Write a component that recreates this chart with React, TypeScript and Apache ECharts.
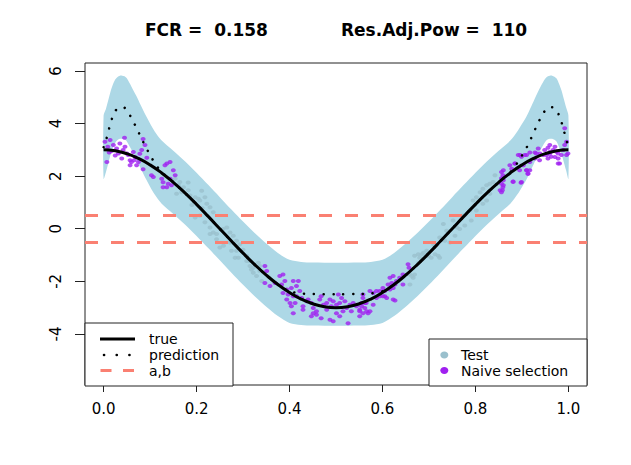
import React, { useEffect, useRef } from "react";
import * as echarts from "echarts";

const FONT = "DejaVu Sans";

const titleLeft = "FCR =  0.158";
const titleRight = "Res.Adj.Pow =  110";
const xTicks = [0, 0.2, 0.4, 0.6, 0.8, 1.0];
const yTicks = [-4, -2, 0, 2, 4, 6];
const abLines = [0.5, -0.5];
const legendLeftLabels = ["true", "prediction", "a,b"];
const legendRightLabels = ["Test", "Naive selection"];

const trueX = [0, 0.025, 0.05, 0.075, 0.1, 0.125, 0.15, 0.175, 0.2, 0.225, 0.25, 0.275, 0.3, 0.325, 0.35, 0.375, 0.4, 0.425, 0.45, 0.475, 0.5,
  0.525, 0.55, 0.575, 0.6, 0.625, 0.65, 0.675, 0.7, 0.725, 0.75, 0.775, 0.8, 0.825, 0.85, 0.875, 0.9, 0.925, 0.95, 0.975, 1.0];
const trueY = [3, 2.963, 2.853, 2.673, 2.427, 2.121, 1.763, 1.362, 0.927, 0.469, 0, -0.469, -0.927, -1.362, -1.763, -2.121, -2.427, -2.673, -2.853, -2.963, -3,
  -2.963, -2.853, -2.673, -2.427, -2.121, -1.763, -1.362, -0.927, -0.469, 0, 0.469, 0.927, 1.362, 1.763, 2.121, 2.427, 2.673, 2.853, 2.963, 3];

const predX = [0, 0.005, 0.01, 0.015, 0.02, 0.025, 0.03, 0.035, 0.04, 0.045, 0.05, 0.06, 0.07, 0.08, 0.09, 0.1, 0.11, 0.125,
  0.15, 0.175, 0.2, 0.225, 0.25, 0.275, 0.3, 0.325, 0.35, 0.375, 0.4, 0.425, 0.45, 0.5, 0.55, 0.575, 0.6, 0.625, 0.65, 0.675,
  0.7, 0.725, 0.75, 0.775, 0.8, 0.825, 0.85, 0.875, 0.89, 0.9, 0.91, 0.92, 0.93, 0.94, 0.95, 0.955, 0.96, 0.965, 0.97, 0.975,
  0.98, 0.985, 0.99, 0.995, 1.0];
const predY = [3.1, 3.35, 3.68, 4.02, 4.28, 4.47, 4.57, 4.62, 4.62, 4.6, 4.52, 4.2, 3.86, 3.49, 3.13, 2.8, 2.5, 2.15,
  1.763, 1.362, 0.927, 0.469, 0, -0.469, -0.927, -1.362, -1.763, -2.121, -2.38, -2.46, -2.48, -2.49, -2.48, -2.46, -2.38, -2.121, -1.763, -1.362,
  -0.927, -0.469, 0, 0.469, 0.927, 1.362, 1.763, 2.15, 2.5, 2.78, 3.08, 3.45, 3.84, 4.2, 4.5, 4.59, 4.62, 4.62, 4.58, 4.5,
  4.3, 4.06, 3.74, 3.42, 3.1];
const bandHalfWidth = 1.2;

const testPoints = [
  [0.164, 1.78], [0.172, 1.58], [0.182, 1.46], [0.186, 1.26], [0.204, 1.14], [0.207, 1.07], [0.218, 1.2], [0.222, 0.95],
  [0.229, 0.82], [0.236, 0.63], [0.218, 0.25], [0.229, 0.05], [0.236, -0.14], [0.257, -0.01], [0.265, 0.05], [0.272, -0.14],
  [0.279, -0.27], [0.286, -0.46], [0.293, -0.59], [0.275, -0.84], [0.283, -1.1], [0.29, -1.1], [0.25, -0.71], [0.308, -1.23],
  [0.315, -1.42], [0.318, -1.55], [0.333, -1.29], [0.336, -1.42], [0.322, -1.67], [0.197, 0.43], [0.207, 0.5], [0.243, -0.2],
  [0.154, 1.9], [0.161, 1.65], [0.168, 1.39], [0.182, 1.76], [0.197, 1.2], [0.211, 1.44], [0.157, 1.33], [0.229, -0.2],
  [0.243, -0.4], [0.258, -0.65], [0.272, -0.52], [0.286, -0.84], [0.308, -1.03], [0.315, -1.23], [0.322, -1.48], [0.336, -1.61],
  [0.344, -1.67], [0.329, -1.8], [0.34, -1.99], [0.19, 0.9], [0.212, 0.78], [0.3, -0.8],
  [0.669, -1.03], [0.677, -0.97], [0.688, -0.91], [0.695, -1.03], [0.705, -1.1], [0.713, -0.97], [0.72, -1.03], [0.68, -1.1],
  [0.695, -0.84], [0.659, -1.74], [0.666, -1.86], [0.659, -2.12], [0.669, -1.74], [0.731, 0.18], [0.738, -0.08], [0.723, -0.33],
  [0.745, -0.52], [0.756, -0.27], [0.766, -0.01], [0.777, 0.12], [0.791, 0.31], [0.752, 0.31], [0.774, 0.5], [0.788, 0.69],
  [0.795, 1.07], [0.802, 1.2], [0.81, 1.39], [0.816, 1.52], [0.824, 1.65], [0.831, 1.71], [0.838, 1.78], [0.831, 1.33],
  [0.824, 1.07], [0.842, 2.03], [0.802, 0.69], [0.816, 0.95], [0.723, -1.1], [0.734, -0.46], [0.663, -1.8], [0.685, -0.97],
  [0.699, -1.03], [0.678, -1.29], [0.71, -0.6], [0.76, 0.05],
];

const naivePoints = [
  [0.003, 3.31], [0.009, 3.12], [0.014, 3.37], [0.007, 2.54], [0.021, 3.18], [0.028, 3.05], [0.032, 2.86], [0.035, 3.24],
  [0.039, 2.67], [0.042, 2.99], [0.045, 3.46], [0.046, 3.12], [0.05, 2.86], [0.053, 2.8], [0.057, 2.6], [0.06, 2.54],
  [0.057, 2.41], [0.064, 2.92], [0.068, 2.73], [0.071, 2.41], [0.075, 2.54], [0.082, 2.99], [0.085, 3.41], [0.089, 3.18],
  [0.085, 2.26], [0.103, 2.03], [0.107, 1.97], [0.125, 1.9], [0.128, 1.77], [0.132, 2.41], [0.136, 2.48], [0.143, 2.54],
  [0.15, 2.22], [0.139, 1.71], [0.146, 1.65], [0.136, 1.58], [0.128, 1.58], [0.143, 1.9], [0.154, 2.03], [0.017, 2.95],
  [0.025, 2.78], [0.012, 2.9], [0.066, 2.6], [0.078, 2.85], [0.093, 2.7],
  [0.347, -1.42], [0.351, -1.61], [0.347, -2.06], [0.358, -2.18], [0.369, -2.06], [0.379, -1.8], [0.386, -1.74], [0.39, -1.99],
  [0.383, -2.12], [0.394, -2.31], [0.386, -2.44], [0.397, -2.5], [0.404, -2.25], [0.408, -1.99], [0.419, -1.99], [0.415, -2.18],
  [0.422, -2.37], [0.426, -2.63], [0.401, -2.82], [0.404, -2.95], [0.412, -2.82], [0.415, -2.57], [0.429, -2.95], [0.437, -2.76],
  [0.44, -2.69], [0.447, -2.82], [0.451, -3.01], [0.458, -3.14], [0.465, -2.69], [0.468, -2.57], [0.473, -2.89], [0.48, -2.82],
  [0.487, -2.69], [0.49, -2.95], [0.494, -2.76], [0.501, -2.89], [0.508, -2.82], [0.512, -2.63], [0.519, -2.76], [0.523, -3.01],
  [0.53, -2.89], [0.537, -2.82], [0.544, -2.95], [0.551, -3.14], [0.562, -3.01], [0.565, -2.82], [0.569, -3.21], [0.533, -3.14],
  [0.515, -3.14], [0.501, -3.21], [0.487, -3.46], [0.468, -3.4], [0.458, -3.27], [0.451, -3.21], [0.447, -3.33], [0.408, -3.21],
  [0.429, -3.08], [0.494, -3.52], [0.526, -3.59], [0.508, -3.33], [0.551, -3.33], [0.558, -2.63], [0.408, -2.57], [0.394, -2.69],
  [0.505, -2.5], [0.48, -3.08],
  [0.655, -1.35], [0.657, -1.48], [0.644, -1.74], [0.637, -1.86], [0.623, -1.8], [0.616, -1.86], [0.63, -1.99], [0.627, -2.12],
  [0.62, -2.06], [0.612, -2.12], [0.644, -2.12], [0.623, -2.25], [0.616, -2.31], [0.605, -2.37], [0.601, -2.25], [0.594, -2.37],
  [0.587, -2.37], [0.58, -2.44], [0.573, -2.37], [0.558, -2.5], [0.562, -2.82], [0.555, -2.95], [0.551, -3.08], [0.566, -3.14],
  [0.573, -3.14], [0.58, -2.89], [0.605, -2.57], [0.609, -2.63], [0.623, -2.69], [0.627, -2.73], [0.594, -2.57], [0.601, -2.57],
  [0.587, -2.63], [0.558, -3.21], [0.555, -2.82],
  [0.86, 2.22], [0.856, 1.92], [0.86, 1.84], [0.858, 1.46], [0.881, 1.8], [0.878, 2.28], [0.885, 2.48], [0.896, 2.8],
  [0.899, 2.74], [0.903, 2.41], [0.91, 2.22], [0.913, 2.09], [0.917, 2.22], [0.91, 2.8], [0.917, 2.9], [0.928, 2.9],
  [0.935, 3.05], [0.939, 2.86], [0.946, 2.8], [0.949, 2.99], [0.956, 3.08], [0.96, 2.86], [0.963, 2.74], [0.967, 2.99],
  [0.971, 3.12], [0.974, 2.93], [0.978, 2.67], [0.981, 2.48], [0.985, 2.8], [0.989, 2.99], [0.992, 3.18], [0.996, 3.31],
  [0.992, 3.82], [0.996, 2.8], [0.999, 2.86], [0.96, 3.18], [0.956, 2.67], [0.978, 2.86], [0.898, 1.75], [0.86, 1.65],
  [0.856, 2.16], [0.859, 2.03], [0.856, 1.71], [0.859, 1.58], [0.856, 1.39], [0.853, 1.46], [0.881, 1.78], [0.899, 1.78],
  [0.895, 2.22], [0.91, 2.22], [0.913, 2.09], [0.892, 2.8], [0.906, 2.8], [0.917, 2.54], [0.928, 2.67], [0.931, 2.86],
  [0.938, 2.6], [0.953, 2.8], [0.96, 2.92], [0.971, 2.73], [0.978, 2.48], [0.874, 2.41], [0.885, 2.48],
];

const BAND = "#ADD8E6";
const TEST = "#9AC0CD";
const NAIVE = "#A020F0";
const SALMON = "#FA8072";

export default function App() {
  const ref = useRef<HTMLDivElement>(null);
  useEffect(() => {
    const chart = echarts.init(ref.current!, null, { renderer: "svg" });
    const trueData = trueX.map((x, i) => [x, trueY[i]]);
    const predData = predX.map((x, i) => [x, predY[i]]);
    const txt = (text: string, x: number, y: number) => ({
      type: "text", x, y, silent: true,
      style: { text, fontSize: 14, fontFamily: FONT, fill: "#000", textVerticalAlign: "middle", verticalAlign: "middle" },
    });
    const option: any = {
      animation: false,
      backgroundColor: "#fff",
      textStyle: { fontFamily: FONT },
      title: [
        { text: titleLeft, left: 140, top: 16, textStyle: { fontSize: 17, fontWeight: "bold", color: "#000", fontFamily: FONT } },
        { text: titleRight, left: 336, top: 16, textStyle: { fontSize: 17, fontWeight: "bold", color: "#000", fontFamily: FONT } },
      ],
      grid: { left: 85, right: 44, top: 63, bottom: 80, show: true, borderColor: "#222", borderWidth: 1, backgroundColor: "transparent" },
      xAxis: {
        type: "value", min: -0.04, max: 1.04,
        axisLine: { show: false, onZero: false },
        splitLine: { show: false },
        axisTick: { show: true, customValues: xTicks, length: 7, lineStyle: { color: "#222" } },
        axisLabel: { customValues: xTicks, formatter: (v: number) => v.toFixed(1), fontSize: 15, color: "#000", margin: 16, fontFamily: FONT },
      },
      yAxis: {
        type: "value", min: -5.94, max: 6.3,
        axisLine: { show: false, onZero: false },
        splitLine: { show: false },
        axisTick: { show: true, customValues: yTicks, length: 10, lineStyle: { color: "#222" } },
        axisLabel: { customValues: yTicks, rotate: 90, fontSize: 15, color: "#000", margin: 22, fontFamily: FONT },
      },
      graphic: [
        { type: "rect", shape: { x: 85, y: 323, width: 148, height: 63 }, style: { fill: "#fff", stroke: "#222", lineWidth: 1 }, silent: true, z: 50 },
        { type: "line", shape: { x1: 100, y1: 339, x2: 135, y2: 339 }, style: { stroke: "#000", lineWidth: 3 }, silent: true, z: 51 },
        { type: "line", shape: { x1: 100, y1: 355, x2: 135, y2: 355 }, style: { stroke: "#000", lineWidth: 2.6, lineDash: [0.1, 12.6], lineDashOffset: -4, lineCap: "round" }, silent: true, z: 51 },
        { type: "line", shape: { x1: 100.5, y1: 370.5, x2: 134, y2: 370.5 }, style: { stroke: SALMON, lineWidth: 3, lineDash: [11, 11.5] }, silent: true, z: 51 },
        { ...txt(legendLeftLabels[0], 149, 339), z: 51 },
        { ...txt(legendLeftLabels[1], 149, 355), z: 51 },
        { ...txt(legendLeftLabels[2], 149, 370.5), z: 51 },
        { type: "rect", shape: { x: 429, y: 339, width: 158, height: 47 }, style: { fill: "#fff", stroke: "#222", lineWidth: 1 }, silent: true, z: 50 },
        { type: "ellipse", shape: { cx: 444.3, cy: 355, rx: 4, ry: 3.4 }, style: { fill: TEST }, silent: true, z: 51 },
        { type: "ellipse", shape: { cx: 444.3, cy: 370.5, rx: 4, ry: 3.4 }, style: { fill: NAIVE }, silent: true, z: 51 },
        { ...txt(legendRightLabels[0], 461, 355), z: 51 },
        { ...txt(legendRightLabels[1], 461, 370.5), z: 51 },
      ],
      series: [
        {
          name: "band", type: "custom", silent: true, z: 1, clip: true,
          data: [[0.5, 0]],
          encode: { x: 0, y: 1 },
          renderItem: (params: any, api: any) => {
            if (params.dataIndex !== 0) return null;
            const upper = predX.map((x, i) => api.coord([x, predY[i] + bandHalfWidth]));
            const lower = predX.map((x, i) => api.coord([x, predY[i] - bandHalfWidth])).reverse();
            return {
              type: "polygon",
              shape: { points: upper.concat(lower), smooth: 0.3 },
              style: { fill: BAND },
              silent: true,
            };
          },
        },
        {
          name: "Test", type: "scatter", data: testPoints, symbol: "circle", symbolSize: [5, 4],
          itemStyle: { color: TEST }, z: 2,
        },
        {
          name: "Naive selection", type: "scatter", data: naivePoints, symbol: "circle", symbolSize: [5, 4],
          itemStyle: { color: NAIVE }, z: 3,
        },
        {
          name: "a,b", type: "line", data: [], symbol: "none",
          lineStyle: { color: SALMON, width: 3 }, z: 4,
          markLine: {
            silent: true, symbol: ["none", "none"], label: { show: false },
            lineStyle: { color: SALMON, width: 3, type: [13, 13] },
            data: abLines.map((v) => ({ yAxis: v })),
          },
        },
        {
          name: "true", type: "line", data: trueData, smooth: true, symbol: "none",
          lineStyle: { color: "#000", width: 3 }, z: 5,
        },
        {
          name: "prediction", type: "line", data: predData, smooth: 0.3, symbol: "none",
          lineStyle: { color: "#000", width: 2.5, type: [0.1, 9.7], cap: "round" }, z: 6,
        },
      ],
    };
    chart.setOption(option);
    return () => chart.dispose();
  }, []);
  return <div ref={ref} style={{ position: "fixed", left: 0, top: 0, width: 631, height: 465 }} />;
}
